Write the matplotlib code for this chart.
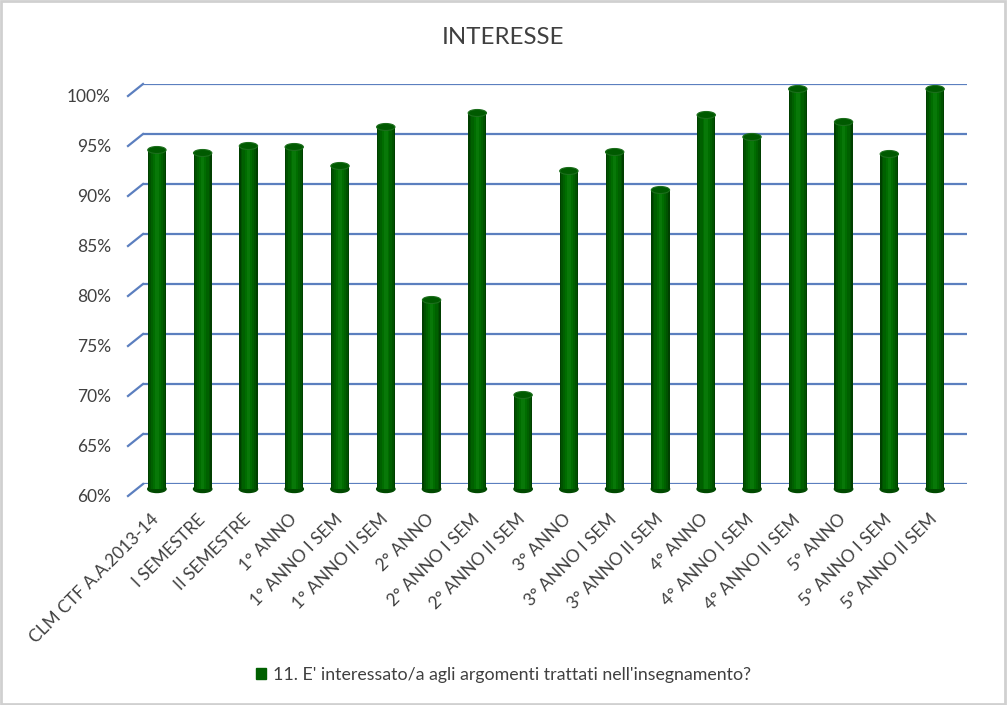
import matplotlib
matplotlib.use("Agg")
import matplotlib.pyplot as plt
from matplotlib.patches import Ellipse, Patch, Rectangle
from matplotlib.lines import Line2D
from matplotlib.transforms import IdentityTransform, ScaledTranslation

# data
categories = [
    "CLM CTF A.A.2013-14", "I SEMESTRE", "II SEMESTRE", "1° ANNO",
    "1° ANNO I SEM", "1° ANNO II SEM", "2° ANNO", "2° ANNO I SEM",
    "2° ANNO II SEM", "3° ANNO", "3° ANNO I SEM", "3° ANNO II SEM",
    "4° ANNO", "4° ANNO I SEM", "4° ANNO II SEM", "5° ANNO",
    "5° ANNO I SEM", "5° ANNO II SEM",
]
values = [93.9, 93.6, 94.3, 94.2, 92.3, 96.2, 78.9, 97.6, 69.4,
          91.8, 93.7, 89.9, 97.4, 95.2, 100.0, 96.7, 93.5, 100.0]
y_ticks = [60, 65, 70, 75, 80, 85, 90, 95, 100]
y_labels = [f"{t}%" for t in y_ticks]
title = "INTERESSE"
series_name = "11. E' interessato/a agli argomenti trattati nell'insegnamento?"

W, H = 1007, 705
TEXT = "#404040"
GRID = "#5b7fbf"

plt.rcParams['font.family'] = ['Lato', 'DejaVu Sans']

fig = plt.figure(figsize=(W / 100, H / 100), dpi=100)
fig.patch.set_facecolor("white")


def rect(left, top, right, bottom):
    # pixel box -> figure fraction
    return [left / W, 1 - bottom / H, (right - left) / W, (bottom - top) / H]


# back wall with gridlines
ax_back = fig.add_axes(rect(143, 84, 967, 484))
ax_back.set_ylim(60, 100)
ax_back.set_xlim(0, 1)
ax_back.axis("off")
for t in y_ticks:
    ax_back.axhline(t, color=GRID, lw=1.6, zorder=0)

# depth lines on the left wall and front tick labels
fig.canvas.draw()
for t, lab in zip(y_ticks, y_labels):
    px, py = ax_back.transData.transform((0, t))
    fig.add_artist(Line2D([px - 15, px], [py - 12, py], color=GRID, lw=1.6,
                          transform=IdentityTransform()))
    fig.text((px - 32) / W, (py - 13) / H, lab, ha="right", va="center",
             fontsize=12.5, color=TEXT)

# bars at mid depth
ax = fig.add_axes(rect(134, 89, 958, 489))
ax.set_ylim(60, 100)
ax.set_xlim(-0.5, len(categories) - 0.5)
ax.patch.set_alpha(0)
for s in ax.spines.values():
    s.set_visible(False)
ax.set_yticks([])

x = list(range(len(categories)))
heights = [v - 60 for v in values]
shades = [(0.40, "#003f00"), (0.34, "#005200"), (0.26, "#006000"),
          (0.16, "#006d00"), (0.08, "#087808")]
for w, c in shades:
    ax.bar(x, heights, bottom=60, width=w, color=c, zorder=2)
for xi, v in zip(x, values):
    ax.add_patch(Ellipse((xi, 60), 0.40, 0.7, color="#004a00", zorder=1,
                         clip_on=False))
    ax.add_patch(Ellipse((xi, v), 0.40, 0.7, facecolor="#005a00",
                         edgecolor="#1c6e1c", lw=0.8, zorder=3, clip_on=False))

ax.set_xticks(x)
ax.set_xticklabels(categories, rotation=45, ha="right", va="top",
                   rotation_mode="anchor", fontsize=12.4, color=TEXT)
ax.tick_params(axis="x", length=0, pad=16)
shift = ScaledTranslation(-6 / 100, 0, fig.dpi_scale_trans)
for lbl in ax.get_xticklabels():
    lbl.set_transform(lbl.get_transform() + shift)

fig.text(0.5, 1 - 37 / H, title, ha="center", va="center", fontsize=17.3,
         color=TEXT)

handle = Patch(facecolor="#006000", edgecolor="#006000")
fig.legend([handle], [series_name], loc="center",
           bbox_to_anchor=(0.5, 1 - 675 / H), frameon=False, fontsize=12.8,
           handlelength=0.6, handleheight=0.6, handletextpad=0.4,
           labelcolor=TEXT)

fig.add_artist(Rectangle((0.001, 0.002), 0.997, 0.996, fill=False,
                         edgecolor="#d0d0d0", lw=2,
                         transform=fig.transFigure))

fig.savefig("out.png", dpi=100)
